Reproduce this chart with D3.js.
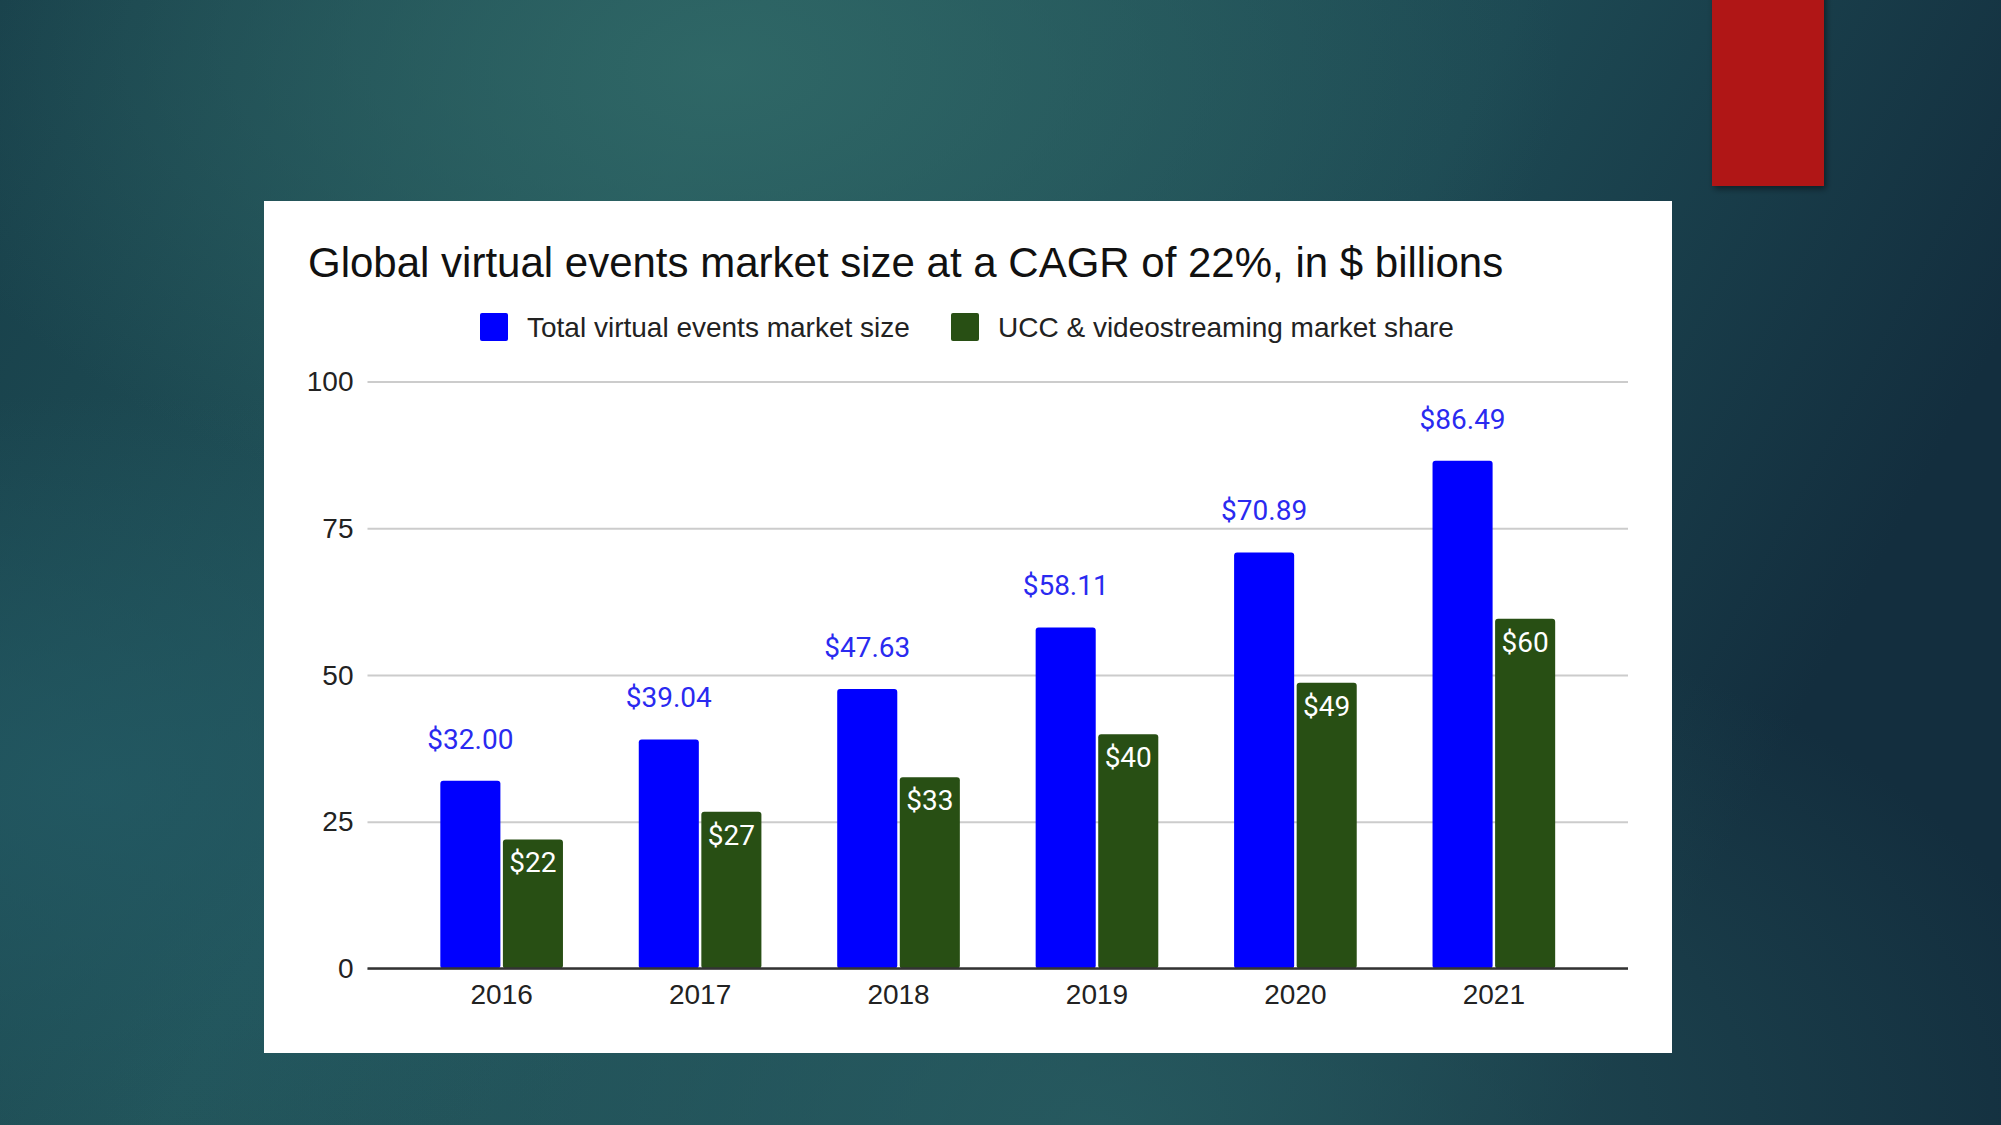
<!DOCTYPE html>
<html>
<head>
<meta charset="utf-8">
<script src="https://cdn.jsdelivr.net/npm/d3@7"></script>
<style>
html,body{margin:0;padding:0;background:#1c4a55;overflow:hidden;}
svg{display:block;}
</style>
</head>
<body>
<svg id="chart" width="2001" height="1125"></svg>
<script>
// ---- data ----
const years = ["2016", "2017", "2018", "2019", "2020", "2021"];
const seriesNames = ["Total virtual events market size", "UCC & videostreaming market share"];
const totalMarket = [32.00, 39.04, 47.63, 58.11, 70.89, 86.49];
const uccShare = [22.0, 26.7, 32.6, 39.9, 48.7, 59.6];
const yTicks = [0, 25, 50, 75, 100];
const titleText = "Global virtual events market size at a CAGR of 22%, in $ billions";

const seriesColors = ["#0000ff", "#284f14"];

const svg = d3.select("#chart");
const W = 2001, H = 1125;

// ---- background ----
const defs = svg.append("defs");
const lg = defs.append("linearGradient").attr("id", "bgLin").attr("x1", 0).attr("y1", 0).attr("x2", 1).attr("y2", 0.3);
lg.append("stop").attr("offset", "0%").attr("stop-color", "#173e49");
lg.append("stop").attr("offset", "35%").attr("stop-color", "#22545a");
lg.append("stop").attr("offset", "70%").attr("stop-color", "#1d4953");
lg.append("stop").attr("offset", "100%").attr("stop-color", "#132e3e");

const rg1 = defs.append("radialGradient").attr("id", "bgGlow1").attr("cx", 0.36).attr("cy", 0.06).attr("r", 0.42);
rg1.append("stop").attr("offset", "0%").attr("stop-color", "#316a68").attr("stop-opacity", 0.85);
rg1.append("stop").attr("offset", "100%").attr("stop-color", "#316a68").attr("stop-opacity", 0);

const rg2 = defs.append("radialGradient").attr("id", "bgGlow2").attr("cx", 0.55).attr("cy", 1.0).attr("r", 0.5);
rg2.append("stop").attr("offset", "0%").attr("stop-color", "#2a6064").attr("stop-opacity", 0.75);
rg2.append("stop").attr("offset", "100%").attr("stop-color", "#2a6064").attr("stop-opacity", 0);

const rg3 = defs.append("radialGradient").attr("id", "bgGlow3").attr("cx", 0.05).attr("cy", 0.7).attr("r", 0.35);
rg3.append("stop").attr("offset", "0%").attr("stop-color", "#235a64").attr("stop-opacity", 0.8);
rg3.append("stop").attr("offset", "100%").attr("stop-color", "#235a64").attr("stop-opacity", 0);

const sh = defs.append("filter").attr("id", "shadow").attr("x", "-20%").attr("y", "-20%").attr("width", "140%").attr("height", "140%");
sh.append("feDropShadow").attr("dx", 2).attr("dy", 3).attr("stdDeviation", 3).attr("flood-color", "#000").attr("flood-opacity", 0.45);

svg.append("rect").attr("width", W).attr("height", H).attr("fill", "url(#bgLin)");
svg.append("rect").attr("width", W).attr("height", H).attr("fill", "url(#bgGlow1)");
svg.append("rect").attr("width", W).attr("height", H).attr("fill", "url(#bgGlow2)");
svg.append("rect").attr("width", W).attr("height", H).attr("fill", "url(#bgGlow3)");

// red accent block
svg.append("rect").attr("x", 1712).attr("y", -10).attr("width", 112).attr("height", 196)
  .attr("fill", "#b01814").attr("filter", "url(#shadow)");

// white chart panel
svg.append("rect").attr("x", 264).attr("y", 201).attr("width", 1408).attr("height", 852).attr("fill", "#ffffff");

// ---- title ----
svg.append("text").attr("x", 308).attr("y", 277)
  .attr("font-family", "'Liberation Sans', Arial, sans-serif").attr("font-size", 42)
  .attr("fill", "#111").text(titleText);

// ---- legend ----
const legendItems = [
  {name: seriesNames[0], color: seriesColors[0], x: 480},
  {name: seriesNames[1], color: seriesColors[1], x: 951}
];
const lgG = svg.append("g");
legendItems.forEach(d => {
  lgG.append("rect").attr("x", d.x).attr("y", 313).attr("width", 28).attr("height", 28)
    .attr("rx", 2).attr("fill", d.color);
  lgG.append("text").attr("x", d.x + 47).attr("y", 337)
    .attr("font-family", "'Liberation Sans', Arial, sans-serif").attr("font-size", 28)
    .attr("fill", "#222").text(d.name);
});

// ---- scales ----
const plotLeft = 367.5, plotRight = 1628;
const y = d3.scaleLinear().domain([0, 100]).range([968.6, 381.5]);
const x0 = d3.scaleBand().domain(years).range([plotLeft, plotRight]).paddingInner(0.382).paddingOuter(0.367);
const x1 = d3.scaleBand().domain([0, 1]).range([0, x0.bandwidth()]).paddingInner(0.04);

// gridlines
const yAxis = d3.axisLeft(y).tickValues(yTicks).tickSize(-(plotRight - plotLeft)).tickPadding(14);
const gy = svg.append("g").attr("transform", `translate(${plotLeft},0)`).call(yAxis);
gy.select(".domain").remove();
gy.selectAll(".tick line").attr("stroke", "#cccccc").attr("stroke-width", 2);
gy.selectAll(".tick text").attr("font-family", "'Liberation Sans', Arial, sans-serif")
  .attr("font-size", 28).attr("fill", "#222");

// bars
const data = years.map((yr, i) => ({year: yr, vals: [totalMarket[i], uccShare[i]]}));
const groups = svg.append("g").selectAll("g").data(data).join("g")
  .attr("transform", d => `translate(${x0(d.year)},0)`);

groups.selectAll("rect").data(d => d.vals.map((v, k) => ({v, k}))).join("rect")
  .attr("x", d => x1(d.k)).attr("width", x1.bandwidth())
  .attr("y", d => y(d.v)).attr("height", d => y(0) - y(d.v))
  .attr("rx", 3).attr("fill", d => seriesColors[d.k]);

// blue labels above
groups.append("text")
  .attr("x", x1(0) + x1.bandwidth() / 2)
  .attr("y", d => y(d.vals[0]) - 32)
  .attr("text-anchor", "middle")
  .attr("font-family", "Roboto, sans-serif").attr("font-size", 28)
  .attr("fill", "#2a2af0")
  .text(d => "$" + d3.format(".2f")(d.vals[0]));

// green labels inside
groups.append("text")
  .attr("x", x1(1) + x1.bandwidth() / 2)
  .attr("y", d => y(d.vals[1]) + 33)
  .attr("text-anchor", "middle")
  .attr("font-family", "Roboto, sans-serif").attr("font-size", 28).attr("font-weight", 400)
  .attr("fill", "#ffffff")
  .text(d => "$" + d3.format(".0f")(d.vals[1]));

// x axis
const xAxis = d3.axisBottom(x0).tickSize(0).tickPadding(16);
const gx = svg.append("g").attr("transform", `translate(0,${y(0)})`).call(xAxis);
gx.select(".domain").attr("stroke", "#333").attr("stroke-width", 2.5)
  .attr("d", `M${plotLeft},0H${plotRight}`);
gx.selectAll(".tick text").attr("font-family", "'Liberation Sans', Arial, sans-serif")
  .attr("font-size", 28).attr("fill", "#222");
</script>
</body>
</html>
